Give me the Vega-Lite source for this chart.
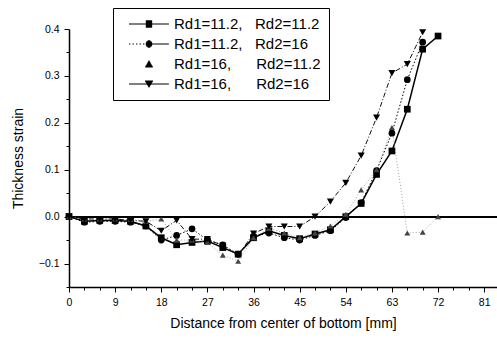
{
  "$schema": "https://vega.github.io/schema/vega-lite/v6.json",
  "width": 428,
  "height": 258,
  "autosize": {"type": "none"},
  "padding": {"left": 69, "top": 29, "right": 0, "bottom": 51},
  "background": "white",
  "config": {
    "view": {"stroke": null},
    "font": "Liberation Sans",
    "axis": {
      "domainColor": "black", "domainWidth": 1.5, "tickColor": "black", "tickWidth": 1,
      "labelColor": "black", "titleColor": "black", "grid": false,
      "labelFont": "Liberation Sans", "titleFont": "Liberation Sans",
      "labelFontSize": 10.5, "titleFontSize": 14, "titleFontWeight": "normal", "labelPadding": 5
    },
    "legend": {
      "labelFont": "Liberation Sans"
    }
  },
  "data": {"values": [
    {"s":"A","x":0,"y":0.0},{"s":"A","x":3,"y":-0.01},{"s":"A","x":6,"y":-0.008},{"s":"A","x":9,"y":-0.008},{"s":"A","x":12,"y":-0.01},{"s":"A","x":15,"y":-0.02},{"s":"A","x":18,"y":-0.045},{"s":"A","x":21,"y":-0.06},{"s":"A","x":24,"y":-0.055},{"s":"A","x":27,"y":-0.052},{"s":"A","x":30,"y":-0.066},{"s":"A","x":33,"y":-0.08},{"s":"A","x":36,"y":-0.045},{"s":"A","x":39,"y":-0.03},{"s":"A","x":42,"y":-0.04},{"s":"A","x":45,"y":-0.047},{"s":"A","x":48,"y":-0.037},{"s":"A","x":51,"y":-0.028},{"s":"A","x":54,"y":0.0},{"s":"A","x":57,"y":0.028},{"s":"A","x":60,"y":0.09},{"s":"A","x":63,"y":0.14},{"s":"A","x":66,"y":0.229},{"s":"A","x":69,"y":0.357},{"s":"A","x":72,"y":0.385},
    {"s":"B","x":0,"y":0.0},{"s":"B","x":3,"y":-0.012},{"s":"B","x":6,"y":-0.01},{"s":"B","x":9,"y":-0.01},{"s":"B","x":12,"y":-0.012},{"s":"B","x":15,"y":-0.02},{"s":"B","x":18,"y":-0.05},{"s":"B","x":21,"y":-0.04},{"s":"B","x":24,"y":-0.026},{"s":"B","x":27,"y":-0.05},{"s":"B","x":30,"y":-0.06},{"s":"B","x":33,"y":-0.08},{"s":"B","x":36,"y":-0.042},{"s":"B","x":39,"y":-0.035},{"s":"B","x":42,"y":-0.045},{"s":"B","x":45,"y":-0.05},{"s":"B","x":48,"y":-0.04},{"s":"B","x":51,"y":-0.03},{"s":"B","x":54,"y":-0.002},{"s":"B","x":57,"y":0.03},{"s":"B","x":60,"y":0.098},{"s":"B","x":63,"y":0.178},{"s":"B","x":66,"y":0.292},{"s":"B","x":69,"y":0.372},
    {"s":"C","x":0,"y":0.0},{"s":"C","x":3,"y":-0.005},{"s":"C","x":6,"y":-0.005},{"s":"C","x":9,"y":-0.005},{"s":"C","x":12,"y":-0.006},{"s":"C","x":15,"y":-0.01},{"s":"C","x":18,"y":-0.005},{"s":"C","x":21,"y":-0.05},{"s":"C","x":24,"y":-0.05},{"s":"C","x":27,"y":-0.055},{"s":"C","x":30,"y":-0.082},{"s":"C","x":33,"y":-0.095},{"s":"C","x":36,"y":-0.045},{"s":"C","x":39,"y":-0.025},{"s":"C","x":42,"y":-0.035},{"s":"C","x":45,"y":-0.045},{"s":"C","x":48,"y":-0.035},{"s":"C","x":51,"y":-0.02},{"s":"C","x":54,"y":0.005},{"s":"C","x":57,"y":0.057},{"s":"C","x":60,"y":0.1},{"s":"C","x":63,"y":0.19},{"s":"C","x":66,"y":-0.035},{"s":"C","x":69,"y":-0.033},{"s":"C","x":72,"y":0.0},
    {"s":"D","x":0,"y":0.0},{"s":"D","x":3,"y":-0.005},{"s":"D","x":6,"y":-0.005},{"s":"D","x":9,"y":-0.005},{"s":"D","x":12,"y":-0.008},{"s":"D","x":15,"y":-0.01},{"s":"D","x":18,"y":-0.03},{"s":"D","x":21,"y":-0.008},{"s":"D","x":24,"y":-0.048},{"s":"D","x":27,"y":-0.048},{"s":"D","x":30,"y":-0.062},{"s":"D","x":33,"y":-0.082},{"s":"D","x":36,"y":-0.036},{"s":"D","x":39,"y":-0.021},{"s":"D","x":42,"y":-0.021},{"s":"D","x":45,"y":-0.021},{"s":"D","x":48,"y":0.0},{"s":"D","x":51,"y":0.032},{"s":"D","x":54,"y":0.072},{"s":"D","x":57,"y":0.13},{"s":"D","x":60,"y":0.211},{"s":"D","x":63,"y":0.306},{"s":"D","x":66,"y":0.325},{"s":"D","x":69,"y":0.393}
  ]},
  "encoding": {
    "x": {
      "field": "x", "type": "quantitative",
      "scale": {"domain": [0, 83.5], "nice": false, "zero": false},
      "axis": {
        "title": "Distance from center of bottom [mm]",
        "values": [0,3,6,9,12,15,18,21,24,27,30,33,36,39,42,45,48,51,54,57,60,63,66,69,72,75,78,81],
        "labelExpr": "datum.value % 9 === 0 ? datum.label : ''",
        "tickSize": {"condition": {"test": "datum.value % 9 === 0", "value": 5}, "value": 3},
        "labelFlush": false,
        "titlePadding": 9
      }
    },
    "y": {
      "field": "y", "type": "quantitative",
      "scale": {"domain": [-0.15, 0.4], "nice": false, "zero": false},
      "axis": {
        "title": "Thickness strain",
        "values": [-0.15,-0.1,-0.05,0,0.05,0.1,0.15,0.2,0.25,0.3,0.35,0.4],
        "labelExpr": "abs(round(datum.value*100)) % 10 === 0 ? format(datum.value, '.1f') : ''",
        "tickSize": {"condition": {"test": "abs(round(datum.value*100)) % 10 === 0", "value": 5}, "value": 3},
        "labelFlush": false,
        "titlePadding": 13
      }
    }
  },
  "layer": [
    {
      "mark": {"type": "rule", "color": "black", "strokeWidth": 1},
      "encoding": {"x": null, "y": {"datum": 0}}
    },
    {
      "transform": [{"filter": "datum.s === 'A'"}],
      "mark": {"type": "line", "color": "black", "strokeWidth": 1.5}
    },
    {
      "transform": [{"filter": "datum.s === 'B'"}],
      "mark": {"type": "line", "color": "black", "strokeWidth": 1, "strokeDash": [1.5, 2]}
    },
    {
      "transform": [{"filter": "datum.s === 'C'"}],
      "mark": {"type": "line", "color": "#888888", "strokeWidth": 0.8, "strokeDash": [1, 2]}
    },
    {
      "transform": [{"filter": "datum.s === 'D'"}],
      "mark": {"type": "line", "color": "#111111", "strokeWidth": 1, "strokeDash": [5, 2, 1, 2]}
    },
    {
      "transform": [{"filter": "datum.s === 'A'"}],
      "mark": {"type": "point", "shape": "square", "filled": true, "color": "black", "size": 45, "opacity": 1}
    },
    {
      "transform": [{"filter": "datum.s === 'B'"}],
      "mark": {"type": "point", "shape": "circle", "filled": true, "color": "black", "size": 45, "opacity": 1}
    },
    {
      "transform": [{"filter": "datum.s === 'C'"}],
      "mark": {"type": "point", "shape": "triangle-up", "filled": true, "color": "#444444", "size": 35, "opacity": 1}
    },
    {
      "transform": [{"filter": "datum.s === 'D'"}],
      "mark": {"type": "point", "shape": "triangle-down", "filled": true, "color": "black", "size": 50, "opacity": 1}
    },
    {
      "transform": [{"filter": "datum.x < 0"}],
      "mark": {"type": "point", "filled": false, "color": "black", "strokeWidth": 1.2, "opacity": 1},
      "encoding": {
        "shape": {
          "field": "s", "type": "nominal",
          "scale": {"domain": ["A","B","C","D"], "range": [
            "M0,0H5.7M2.4,-0.45H3.31M2.4,-0.3H3.31M2.4,-0.15H3.31M2.4,0.15H3.31M2.4,0.3H3.31M2.4,0.45H3.31",
            "M0,0H0.2M0.5,0H0.7M1,0H1.2M1.5,0H1.7M2,0H2.2M2.387,0H5.7M2.667,-0.45H3.047M2.487,-0.3H3.227M2.407,-0.15H3.307M2.407,0.15H3.307M2.487,0.3H3.227M2.667,0.45H3.047",
            "M2.8,-0.45H2.914M2.717,-0.3H2.997M2.627,-0.15H3.087M2.547,0H3.167M2.457,0.15H3.257M2.372,0.3H3.342M2.307,0.42H3.407",
            "M0,0H5.7M2.287,-0.4H3.427M2.377,-0.25H3.337M2.467,-0.1H3.247M2.557,0.05H3.157M2.647,0.2H3.067M2.737,0.35H2.977M2.817,0.48H2.897"
          ]},
          "legend": {
            "title": null,
            "orient": "none",
            "legendX": 44,
            "legendY": -21,
            "strokeColor": "black",
            "fillColor": "white",
            "padding": 8,
            "symbolSize": 196,
            "symbolOpacity": 1,
            "symbolStrokeWidth": 1.2,
            "symbolStrokeColor": "black",
            "labelOffset": 37,
            "labelFontSize": 15,
            "labelColor": "black",
            "rowPadding": 4,
            "labelLimit": 400,
            "labelExpr": "datum.label === 'A' ? 'Rd1=11.2,\u00a0\u00a0\u00a0Rd2=11.2\u00a0\u00a0\u00a0' : datum.label === 'B' ? 'Rd1=11.2,\u00a0\u00a0\u00a0Rd2=16' : datum.label === 'C' ? 'Rd1=16,\u00a0\u00a0\u00a0\u00a0\u00a0\u00a0Rd2=11.2' : 'Rd1=16,\u00a0\u00a0\u00a0\u00a0\u00a0\u00a0Rd2=16'"
          }
        }
      }
    }
  ]
}
